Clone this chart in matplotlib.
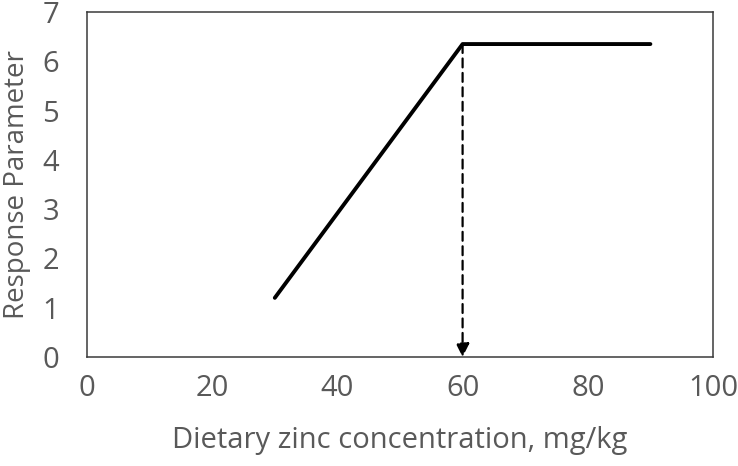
import matplotlib
matplotlib.use("Agg")
import matplotlib.pyplot as plt

# datos
zinc = [30, 60, 90]
respuesta = [1.2, 6.35, 6.35]
punto_quiebre = (60, 6.35)

x_ticks = [0, 20, 40, 60, 80, 100]
y_ticks = [0, 1, 2, 3, 4, 5, 6, 7]

plt.rcParams['font.family'] = ['Open Sans', 'DejaVu Sans']
gris = '#595959'
tam = 21

fig = plt.figure(figsize=(7.38, 4.66), dpi=100)
ax = fig.add_axes([0.1179, 0.2339, 0.8482, 0.7403])

ax.plot(zinc, respuesta, color='black', lw=2.8, solid_capstyle='round')

ax.annotate('', xy=(punto_quiebre[0], 0), xytext=punto_quiebre,
            arrowprops=dict(arrowstyle='-|>', color='black', lw=1.6,
                            linestyle=(0, (4, 2.5)), mutation_scale=20,
                            shrinkA=0, shrinkB=0))

ax.set_xlim(0, 100)
ax.set_ylim(0, 7)
ax.set_xticks(x_ticks)
ax.set_yticks(y_ticks)
ax.tick_params(length=0, labelsize=tam, labelcolor=gris)
ax.tick_params(axis='y', pad=20)
ax.tick_params(axis='x', pad=12)

for s in ax.spines.values():
    s.set_color('#3a3a3a')
    s.set_linewidth(1.1)

ax.set_xlabel('Dietary zinc concentration, mg/kg', fontsize=tam, color=gris, labelpad=17)
ax.set_ylabel('Response Parameter', fontsize=20, color=gris, labelpad=8)

fig.savefig('out.png', dpi=100)
